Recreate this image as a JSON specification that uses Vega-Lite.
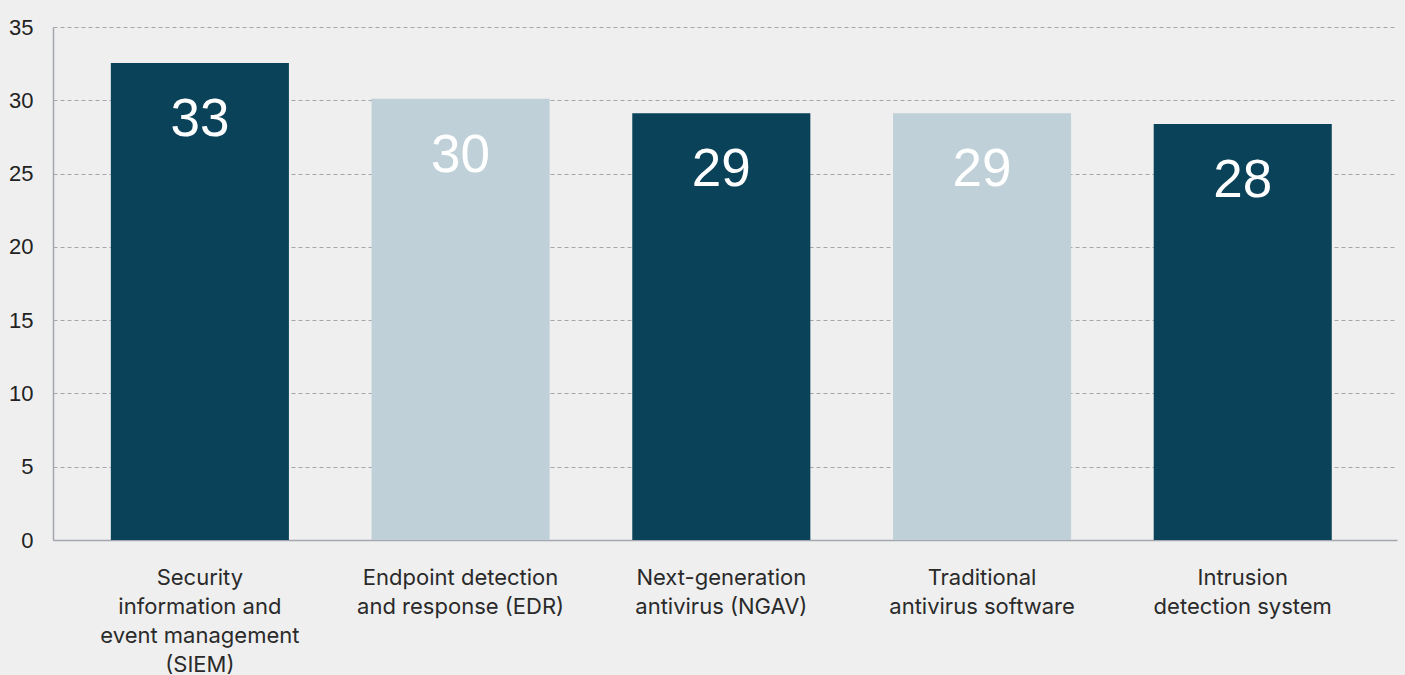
{
  "$schema": "https://vega.github.io/schema/vega-lite/v6.json",
  "autosize": {"type": "none"},
  "width": 1344,
  "height": 513,
  "padding": {"left": 53, "top": 27, "right": 8, "bottom": 135},
  "background": "#efefef",
  "config": {"view": {"stroke": null}, "font": "Liberation Sans"},
  "data": {"values": [
    {"category": "Security information and event management (SIEM)", "value": 32.55, "shade": "dark"},
    {"category": "Endpoint detection and response (EDR)", "value": 30.1, "shade": "light"},
    {"category": "Next-generation antivirus (NGAV)", "value": 29.12, "shade": "dark"},
    {"category": "Traditional antivirus software", "value": 29.12, "shade": "light"},
    {"category": "Intrusion detection system", "value": 28.38, "shade": "dark"}
  ]},
  "encoding": {
    "x": {"field": "category", "type": "nominal", "sort": null,
      "scale": {"paddingInner": 0.317, "paddingOuter": 0.236, "align": 0.47},
      "axis": {"title": null, "labelAngle": 0, "ticks": false, "domainColor": "#a4a7ae", "domainWidth": 1.5,
        "labelFont": "Inter", "labelFontSize": 22, "labelColor": "#2a2a2a", "labelPadding": 37, "labelLineHeight": 29,
        "labelBaseline": "middle", "labelLimit": 400,
        "labelExpr": "datum.value == 'Security information and event management (SIEM)' ? ['Security','information and','event management','(SIEM)'] : datum.value == 'Endpoint detection and response (EDR)' ? ['Endpoint detection','and response (EDR)'] : datum.value == 'Next-generation antivirus (NGAV)' ? ['Next-generation','antivirus (NGAV)'] : datum.value == 'Traditional antivirus software' ? ['Traditional','antivirus software'] : ['Intrusion','detection system']"}},
    "y": {"field": "value", "type": "quantitative",
      "scale": {"domain": [0, 35], "nice": false},
      "axis": {"title": null, "values": [0, 5, 10, 15, 20, 25, 30, 35], "ticks": false, "domainColor": "#a4a7ae", "domainWidth": 1.5,
        "labelFontSize": 22, "labelColor": "#222222", "labelPadding": 20,
        "gridColor": "#a4a7ae", "gridDash": [4, 3], "gridWidth": 1}}
  },
  "layer": [
    {"mark": {"type": "bar"},
     "encoding": {"color": {"field": "shade", "type": "nominal", "legend": null,
       "scale": {"domain": ["dark", "light"], "range": ["#0a4259", "#bfd0d8"]}}}},
    {"mark": {"type": "text", "baseline": "alphabetic", "dy": 73, "fontSize": 53, "color": "#ffffff"},
     "encoding": {"text": {"field": "value", "type": "quantitative", "format": ".0f"}}}
  ]
}
